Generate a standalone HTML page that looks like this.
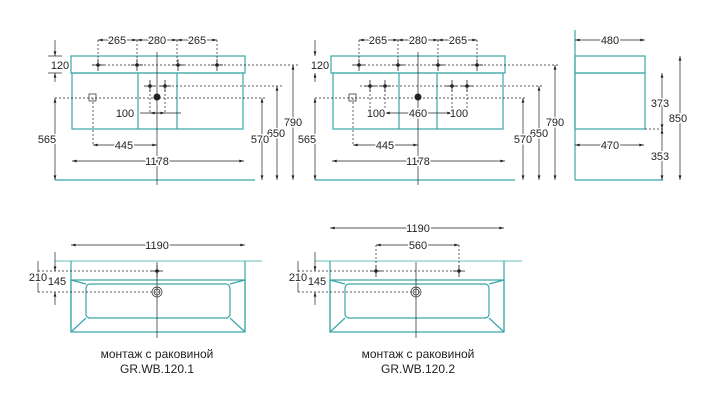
<!DOCTYPE html><html><head><meta charset="utf-8"><style>body{margin:0;background:#fff}svg{display:block}text{font-family:"Liberation Sans",sans-serif;font-size:11px;fill:#222;stroke:#fff;stroke-width:3px;paint-order:stroke;stroke-linejoin:round}</style></head><body>
<svg width="720" height="408" viewBox="0 0 720 408">
<defs>
<marker id="a" viewBox="0 0 10 6" refX="10" refY="3" markerWidth="8" markerHeight="4" orient="auto-start-reverse"><path d="M0,0L10,3L0,6z" fill="#222"/></marker>
<g id="tap"><line x1="-6" y1="0" x2="6" y2="0" stroke="#222" stroke-width=".8"/><line x1="0" y1="-6" x2="0" y2="6" stroke="#222" stroke-width=".8"/><circle r="1.8" fill="#222"/></g>
</defs>
<g fill="none" stroke="#3aa6a6" stroke-width="1.2">
<rect x="71" y="56" width="174" height="17"/><rect x="72" y="73" width="171" height="56"/><line x1="138" y1="73" x2="138" y2="129"/><line x1="177" y1="73" x2="177" y2="129"/><line x1="55" y1="180" x2="255" y2="180"/>
<rect x="331" y="56" width="174" height="17"/><rect x="333" y="73" width="170" height="56"/><line x1="399" y1="73" x2="399" y2="129"/><line x1="437" y1="73" x2="437" y2="129"/><line x1="315" y1="180" x2="515" y2="180"/>
<rect x="575" y="56" width="70" height="17"/><rect x="575" y="73" width="70" height="56"/><line x1="575" y1="30" x2="575" y2="180"/><line x1="575" y1="180" x2="663" y2="180"/>
<line x1="55" y1="261" x2="262" y2="261" stroke="#8cc"/><line x1="71" y1="261" x2="71" y2="332"/><line x1="245" y1="261" x2="245" y2="332"/>
<path d="M71,280L245,280L245,332L71,332Z"/><rect x="86" y="284" width="144" height="34" rx="4"/><path d="M71,280L86,284M245,280L230,284M71,332L86,318M245,332L230,318"/>
<line x1="315" y1="261" x2="522" y2="261" stroke="#8cc"/><line x1="330" y1="261" x2="330" y2="332"/><line x1="504" y1="261" x2="504" y2="332"/>
<path d="M330,280L504,280L504,332L330,332Z"/><rect x="345" y="284" width="144" height="34" rx="4"/><path d="M330,280L345,284M504,280L489,284M330,332L345,318M504,332L489,318"/>
</g>
<g stroke="#222" stroke-width=".7" fill="none">
<g stroke-dasharray="2,2">
<line x1="92" y1="65" x2="300" y2="65"/><line x1="160" y1="86" x2="282" y2="86"/><line x1="55" y1="98" x2="267" y2="98"/>
<line x1="352" y1="65" x2="560" y2="65"/><line x1="360" y1="86" x2="542" y2="86"/><line x1="315" y1="98" x2="527" y2="98"/>
<line x1="645" y1="129" x2="665" y2="129"/>
<line x1="38" y1="271" x2="160" y2="271"/><line x1="38" y1="292" x2="160" y2="292"/>
<line x1="298" y1="271" x2="460" y2="271"/><line x1="298" y1="292" x2="420" y2="292"/>
<line x1="98" y1="40" x2="98" y2="65"/><line x1="137" y1="40" x2="137" y2="65"/><line x1="177" y1="40" x2="177" y2="65"/><line x1="217" y1="40" x2="217" y2="65"/>
<line x1="359" y1="40" x2="359" y2="65"/><line x1="398" y1="40" x2="398" y2="65"/><line x1="438" y1="40" x2="438" y2="65"/><line x1="477" y1="40" x2="477" y2="65"/>
<line x1="93" y1="98" x2="93" y2="145"/><line x1="353" y1="98" x2="353" y2="145"/>
<line x1="150" y1="86" x2="150" y2="113"/><line x1="165" y1="86" x2="165" y2="113"/>
<line x1="370" y1="86" x2="370" y2="113"/><line x1="385" y1="86" x2="385" y2="113"/><line x1="452" y1="86" x2="452" y2="113"/><line x1="467" y1="86" x2="467" y2="113"/>
<line x1="376" y1="245" x2="376" y2="271"/><line x1="459" y1="245" x2="459" y2="271"/>
</g>
<line x1="157" y1="52" x2="157" y2="185"/><line x1="418" y1="52" x2="418" y2="185"/><line x1="157" y1="262" x2="157" y2="338"/><line x1="416" y1="262" x2="416" y2="338"/>
<g marker-start="url(#a)" marker-end="url(#a)">
<line x1="98" y1="40" x2="137" y2="40"/><line x1="137" y1="40" x2="177" y2="40"/><line x1="177" y1="40" x2="217" y2="40"/>
<line x1="359" y1="40" x2="398" y2="40"/><line x1="398" y1="40" x2="438" y2="40"/><line x1="438" y1="40" x2="477" y2="40"/>
<line x1="93" y1="145" x2="157" y2="145"/><line x1="72" y1="161" x2="244" y2="161"/>
<line x1="353" y1="145" x2="418" y2="145"/><line x1="332" y1="161" x2="505" y2="161"/>
<line x1="293" y1="65" x2="293" y2="180"/><line x1="277" y1="86" x2="277" y2="180"/><line x1="262" y1="98" x2="262" y2="180"/><line x1="55" y1="98" x2="55" y2="180"/>
<line x1="555" y1="65" x2="555" y2="180"/><line x1="539" y1="86" x2="539" y2="180"/><line x1="523" y1="98" x2="523" y2="180"/><line x1="315" y1="98" x2="315" y2="180"/>
<line x1="575" y1="40" x2="645" y2="40"/><line x1="575" y1="145" x2="644" y2="145"/>
<line x1="680" y1="56" x2="680" y2="180"/><line x1="662" y1="73" x2="662" y2="129"/><line x1="662" y1="129" x2="662" y2="180"/>
<line x1="71" y1="245" x2="245" y2="245"/><line x1="330" y1="228" x2="504" y2="228"/><line x1="376" y1="245" x2="459" y2="245"/>
<line x1="150" y1="113" x2="165" y2="113"/><line x1="370" y1="113" x2="385" y2="113"/><line x1="385" y1="113" x2="452" y2="113"/><line x1="452" y1="113" x2="467" y2="113"/>
</g>
<line x1="55" y1="40" x2="55" y2="56" marker-end="url(#a)"/><line x1="55" y1="82" x2="55" y2="73" marker-end="url(#a)"/><line x1="48" y1="56" x2="62" y2="56"/><line x1="48" y1="73" x2="62" y2="73"/>
<line x1="315" y1="40" x2="315" y2="56" marker-end="url(#a)"/><line x1="315" y1="82" x2="315" y2="73" marker-end="url(#a)"/>
<line x1="38" y1="261" x2="38" y2="292"/><line x1="55" y1="252" x2="55" y2="271" marker-end="url(#a)"/><line x1="55" y1="305" x2="55" y2="292" marker-end="url(#a)"/>
<line x1="298" y1="261" x2="298" y2="292"/><line x1="315" y1="252" x2="315" y2="271" marker-end="url(#a)"/><line x1="315" y1="305" x2="315" y2="292" marker-end="url(#a)"/>
<line x1="140" y1="113" x2="181" y2="113"/>
<rect x="89" y="94" width="7" height="7"/><rect x="349" y="94" width="7" height="7"/>
<circle cx="157" cy="292" r="5"/><circle cx="157" cy="292" r="3"/><circle cx="416" cy="292" r="5"/><circle cx="416" cy="292" r="3"/>
</g>
<use href="#tap" x="98" y="65"/><use href="#tap" x="137" y="65"/><use href="#tap" x="178" y="65"/><use href="#tap" x="217" y="65"/>
<use href="#tap" x="359" y="65"/><use href="#tap" x="398" y="65"/><use href="#tap" x="438" y="65"/><use href="#tap" x="477" y="65"/>
<use href="#tap" x="150" y="86"/><use href="#tap" x="165" y="86"/><use href="#tap" x="370" y="86"/><use href="#tap" x="385" y="86"/><use href="#tap" x="452" y="86"/><use href="#tap" x="467" y="86"/>
<use href="#tap" x="157" y="271"/><use href="#tap" x="376" y="271"/><use href="#tap" x="459" y="271"/>
<circle cx="157" cy="97" r="3.5" fill="#222"/><circle cx="418" cy="97" r="3.5" fill="#222"/>
<g text-anchor="middle">
<text x="117" y="44">265</text><text x="157" y="44">280</text><text x="197" y="44">265</text>
<text x="378" y="44">265</text><text x="418" y="44">280</text><text x="458" y="44">265</text>
<text x="125" y="117">100</text><text x="376" y="117">100</text><text x="418" y="117">460</text><text x="459" y="117">100</text>
<text x="124" y="149">445</text><text x="157" y="165">1178</text><text x="385" y="149">445</text><text x="418" y="165">1178</text>
<text x="60" y="69">120</text><text x="320" y="69">120</text><text x="47" y="143">565</text><text x="307" y="143">565</text>
<text x="293" y="126">790</text><text x="276" y="137">650</text><text x="260" y="143">570</text>
<text x="555" y="126">790</text><text x="539" y="137">650</text><text x="523" y="143">570</text>
<text x="610" y="44">480</text><text x="610" y="149">470</text><text x="678" y="122">850</text><text x="660" y="107">373</text><text x="660" y="160">353</text>
<text x="157" y="249">1190</text><text x="418" y="232">1190</text><text x="418" y="249">560</text>
<text x="38" y="281">210</text><text x="57" y="285">145</text><text x="298" y="281">210</text><text x="317" y="285">145</text>
<text x="157" y="358" style="font-size:12px">монтаж с раковиной</text><text x="157" y="373" style="font-size:12px">GR.WB.120.1</text>
<text x="418" y="358" style="font-size:12px">монтаж с раковиной</text><text x="418" y="373" style="font-size:12px">GR.WB.120.2</text>
</g>
</svg></body></html>
